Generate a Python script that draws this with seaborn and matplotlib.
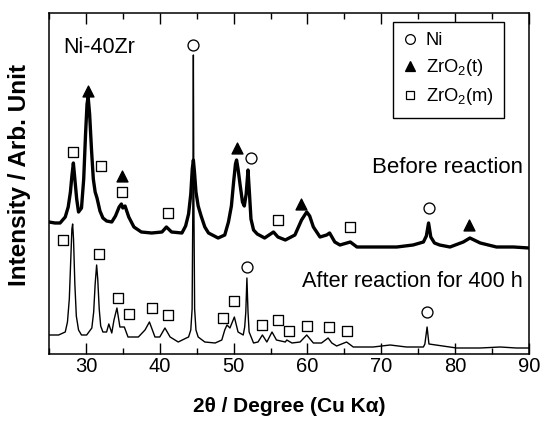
import matplotlib
matplotlib.use("Agg")
import matplotlib.pyplot as plt
import pandas as pd
import seaborn as sns
from matplotlib.lines import Line2D
from matplotlib.ticker import MultipleLocator

# ---- data (2theta in degrees, intensity in arb. units) ----
two_theta_before = [25.0, 25.8, 26.5, 27.2, 27.6, 27.9, 28.1, 28.3, 28.5, 28.75, 29.0, 29.4,
                    29.7, 29.95, 30.15, 30.3, 30.5, 30.75, 31.0, 31.25, 31.5, 31.9, 32.3, 32.8,
                    33.5, 34.0, 34.5, 34.8, 35.0, 35.3, 35.8, 36.5, 37.5, 38.9, 40.3, 40.9,
                    41.6, 43.0, 43.5, 43.9, 44.2, 44.4, 44.55, 44.7, 44.9, 45.2, 45.6, 46.1,
                    46.6, 47.9, 48.8, 49.3, 49.7, 50.0, 50.25, 50.4, 50.6, 50.9, 51.2, 51.45,
                    51.7, 51.95, 52.15, 52.35, 52.7, 53.2, 54.2, 55.4, 56.0, 57.0, 58.3, 59.2,
                    59.9, 60.3, 60.8, 61.7, 62.6, 63.0, 63.7, 64.4, 65.8, 66.7, 69.8, 72.1,
                    74.3, 75.7, 76.1, 76.4, 76.7, 77.2, 77.9, 79.3, 81.1, 82.0, 83.4, 85.6,
                    87.9, 90.0]
intensity_before = [132, 131, 131, 137, 147, 162, 178, 191, 175, 155, 142, 146,
                    175, 220, 250, 257, 240, 205, 175, 162, 156, 143, 136, 133,
                    132, 138, 147, 150, 146, 148, 137, 127, 122, 121, 122, 127,
                    122, 121, 128, 140, 160, 185, 194, 182, 162, 148, 138, 127,
                    121, 116, 119, 132, 148, 172, 190, 194, 185, 168, 152, 148,
                    160, 184, 160, 135, 124, 120, 116, 122, 117, 114, 119, 134,
                    142, 138, 127, 117, 119, 121, 112, 109, 112, 107, 107, 107,
                    109, 112, 118, 131, 117, 111, 109, 107, 112, 116, 111, 107,
                    107, 106]

two_theta_after = [25.0, 26.3, 27.2, 27.5, 27.75, 27.95, 28.1, 28.2, 28.32, 28.5, 28.7, 29.0,
                   29.4, 30.1, 30.8, 31.05, 31.25, 31.45, 31.6, 31.8, 32.0, 32.3, 32.8, 33.1,
                   33.5, 33.8, 34.2, 34.6, 35.2, 35.7, 37.1, 38.0, 38.6, 39.35, 40.0, 40.7,
                   41.4, 42.5, 43.6, 43.9, 44.2, 44.38, 44.48, 44.55, 44.62, 44.72, 44.9, 45.2,
                   46.1, 47.5, 48.4, 48.8, 49.1, 49.5, 50.1, 50.6, 51.3, 51.5, 51.65, 51.8,
                   51.95, 52.1, 52.7, 53.3, 53.9, 54.5, 55.2, 55.8, 57.0, 57.2, 57.9, 59.0,
                   59.9, 60.8, 61.9, 62.8, 63.3, 63.95, 65.3, 66.2, 68.9, 71.2, 73.4, 75.7,
                   75.9, 76.2, 76.45, 80.2, 83.4, 86.1, 88.3, 90.0]
intensity_after = [19, 19, 22, 32, 55, 95, 125, 130, 115, 70, 38, 24,
                   19, 19, 26, 42, 70, 89, 75, 45, 28, 22, 22, 30,
                   21, 34, 46, 27, 27, 17, 17, 24, 32, 17, 17, 26,
                   17, 12, 16, 17, 24, 45, 150, 299, 150, 45, 24, 17,
                   12, 11, 14, 24, 29, 26, 37, 22, 19, 27, 42, 76,
                   42, 22, 11, 12, 19, 12, 22, 14, 12, 14, 11, 12,
                   19, 11, 11, 16, 11, 8, 12, 7, 7, 9, 7, 7,
                   10, 27, 10, 6, 6, 7, 6, 6]

# peak identification marks: phase, 2theta, level
mark_phase = ["m", "t", "m", "t", "m", "m", "Ni", "t", "Ni", "m", "t", "m", "Ni", "t",
              "m", "m", "m", "m", "m", "m", "m", "m", "Ni", "m", "m", "m", "m", "m", "m", "Ni"]
mark_two_theta = [28.3, 30.3, 32.0, 34.9, 34.9, 41.1, 44.5, 50.4, 52.3, 56.0, 59.1, 65.8, 76.5, 81.9,
                  26.9, 31.8, 34.4, 35.9, 39.0, 41.1, 48.6, 50.05, 51.85, 53.9, 56.0, 57.5, 59.9,
                  62.9, 65.4, 76.2]
mark_level = [202, 263, 188, 178, 162, 141, 309, 206, 196, 134, 150, 127, 146, 129,
              114, 100, 56, 40, 46, 39, 36, 53, 87, 29, 34, 23, 28, 27, 23, 42]

phase_keys = ["Ni", "t", "m"]
phase_labels = ["Ni", "ZrO$_2$(t)", "ZrO$_2$(m)"]
x_ticks = [30, 40, 50, 60, 70, 80, 90]
sample_texts = ["Ni-40Zr", "Before reaction", "After reaction for 400 h"]

# ---- style ----
sns.set_theme(style="ticks")
plt.rcParams["font.family"] = ["Liberation Sans", "DejaVu Sans"]
plt.rcParams["mathtext.fontset"] = "custom"
plt.rcParams["mathtext.rm"] = "Liberation Sans"
plt.rcParams["mathtext.default"] = "regular"
for k in ["text.color", "axes.labelcolor", "xtick.color", "ytick.color", "axes.edgecolor"]:
    plt.rcParams[k] = "black"

W, H = 542, 424
fig = plt.figure(figsize=(W / 100, H / 100), dpi=100)
ax = fig.add_axes([49 / W, 1 - 354 / H, 480 / W, 341 / H])

df_b = pd.DataFrame({"x": two_theta_before, "y": intensity_before})
df_a = pd.DataFrame({"x": two_theta_after, "y": intensity_after})
sns.lineplot(data=df_b, x="x", y="y", ax=ax, color="black", lw=2.4,
             estimator=None, sort=False)
sns.lineplot(data=df_a, x="x", y="y", ax=ax, color="black", lw=1.0,
             estimator=None, sort=False)

df_m = pd.DataFrame({"phase": mark_phase, "x": mark_two_theta, "y": mark_level})
mstyle = {"Ni": dict(marker="o", s=62, facecolor="white"),
          "t": dict(marker="^", s=62, facecolor="black"),
          "m": dict(marker="s", s=50, facecolor="white")}
for key in phase_keys:
    sub = df_m[df_m["phase"] == key]
    st = mstyle[key]
    sns.scatterplot(data=sub, x="x", y="y", ax=ax, marker=st["marker"], s=st["s"],
                    facecolor=st["facecolor"], edgecolor="black", linewidth=0.95,
                    zorder=4, legend=False)

ax.set_xlim(25, 90)
ax.set_ylim(0, 341)
ax.set_xticks(x_ticks)
ax.xaxis.set_minor_locator(MultipleLocator(5))
ax.set_yticks([])
ax.tick_params(axis="x", which="major", direction="in", length=8, width=1.0,
               top=True, labelsize=14.5, pad=2.5, colors="black")
ax.tick_params(axis="x", which="minor", direction="in", length=4.3, width=1.0, top=True)
for sp in ax.spines.values():
    sp.set_linewidth(1.1)
    sp.set_color("black")

ax.set_xlabel("2\u03b8 / Degree (Cu K\u03b1)", fontsize=15, fontweight="bold", labelpad=15)
ax.set_ylabel("Intensity / Arb. Unit", fontsize=17.5, fontweight="bold")
ax.yaxis.set_label_coords(-0.038, 0.525)

ax.text(26.9, 301, sample_texts[0], fontsize=15.5, va="baseline", ha="left")
ax.text(89.2, 181, sample_texts[1], fontsize=16, va="baseline", ha="right")
ax.text(89.2, 67, sample_texts[2], fontsize=15.7, va="baseline", ha="right")

handles = [
    Line2D([], [], ls="none", marker="o", ms=7.0, mfc="white", mec="black", mew=0.9),
    Line2D([], [], ls="none", marker="^", ms=7.0, mfc="black", mec="black", mew=0.9),
    Line2D([], [], ls="none", marker="s", ms=6.4, mfc="white", mec="black", mew=0.9),
]
leg = ax.legend(handles, phase_labels, loc="upper right", bbox_to_anchor=(0.948, 0.974),
                fontsize=13.2, frameon=True, fancybox=False, framealpha=1,
                edgecolor="black", handlelength=0.8, handletextpad=0.45,
                labelspacing=0.45, borderpad=0.55, borderaxespad=0)
leg.get_frame().set_linewidth(1.0)

fig.savefig("out.png", dpi=100)
